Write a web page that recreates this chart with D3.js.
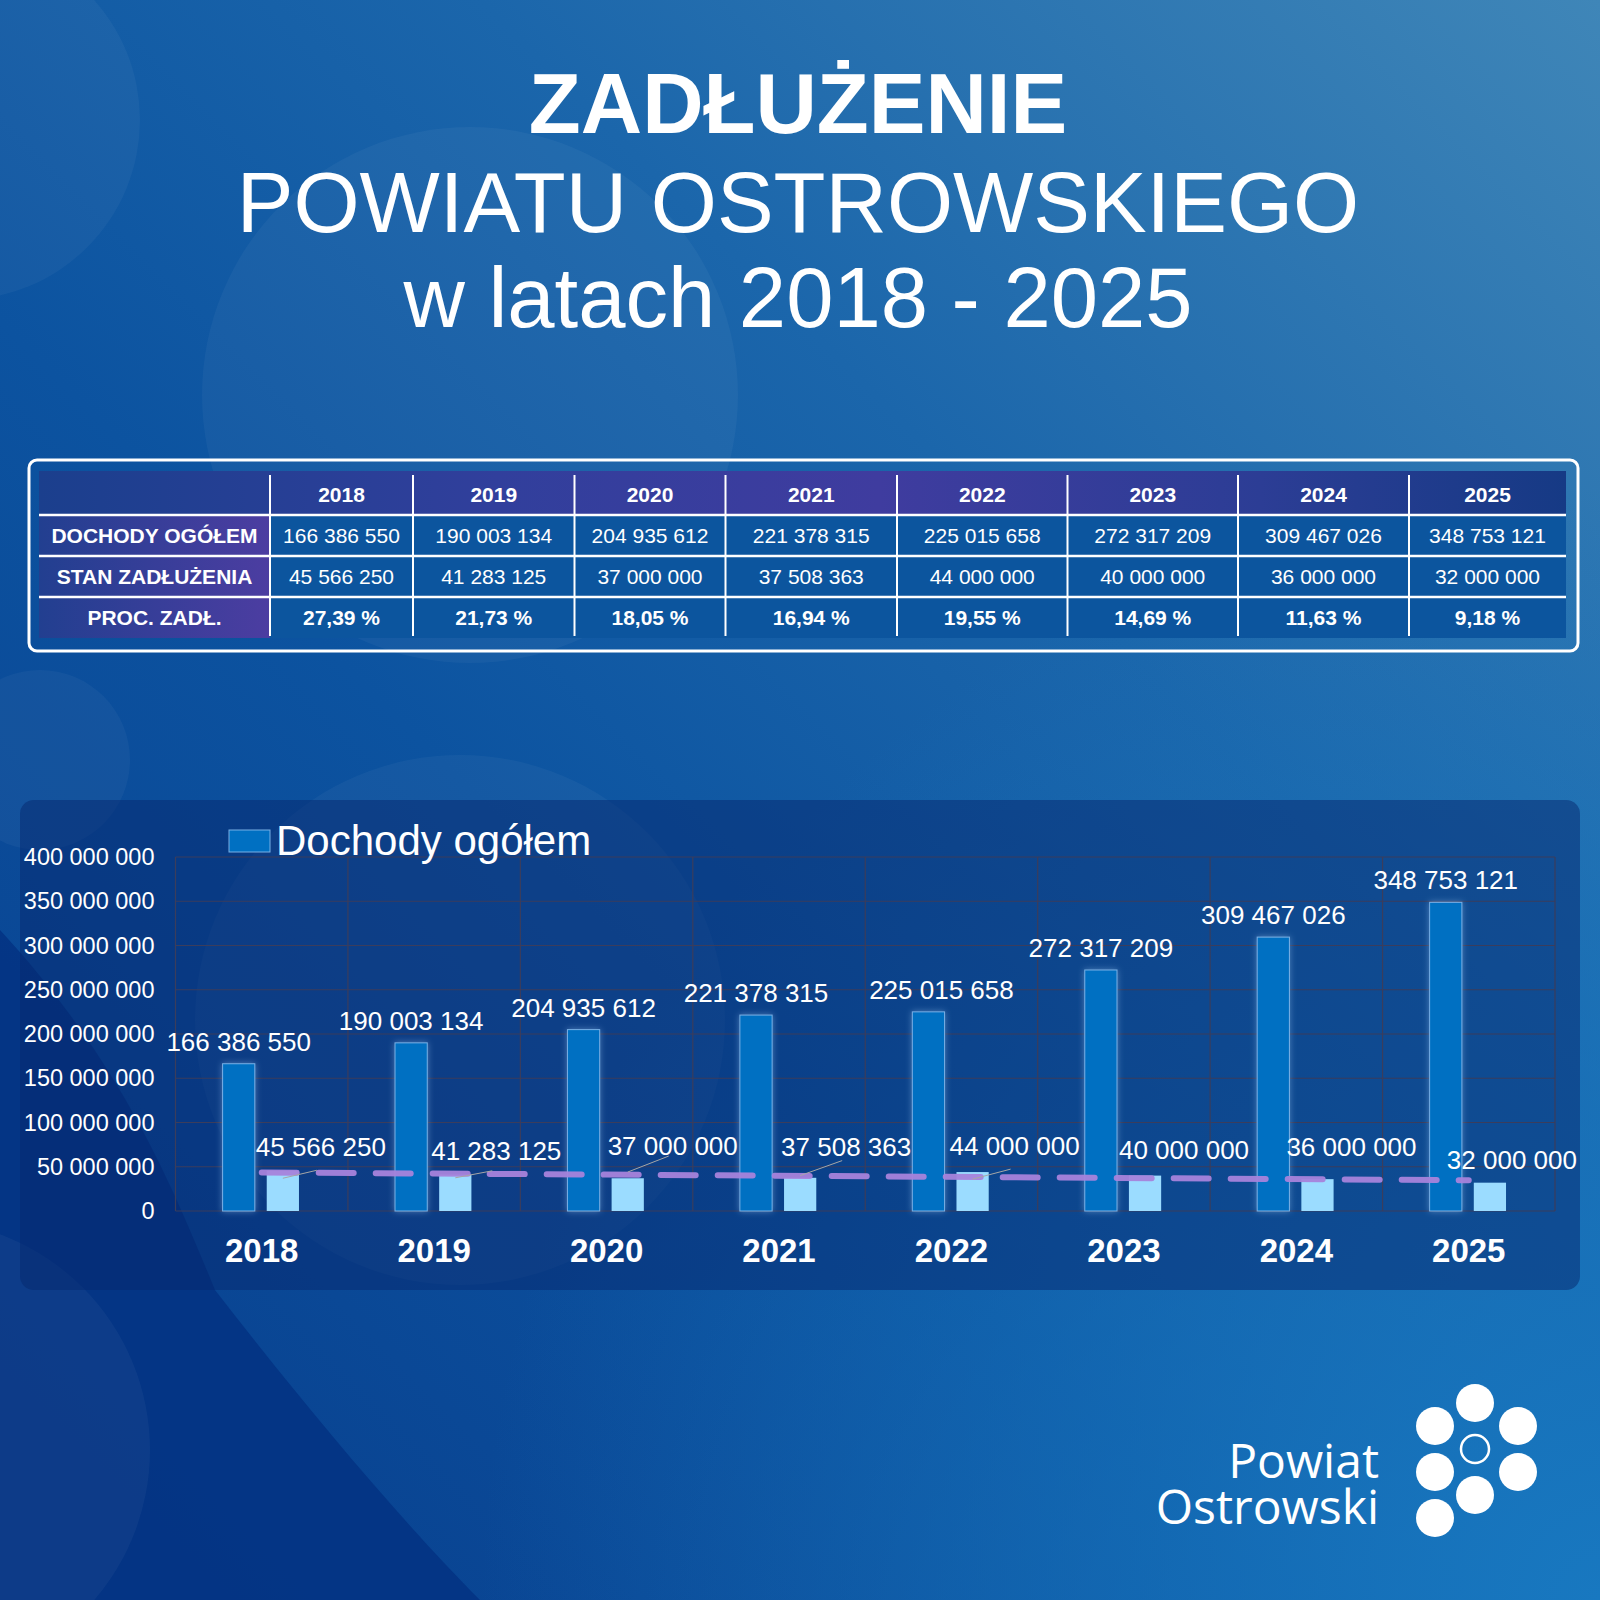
<!DOCTYPE html>
<html>
<head>
<meta charset="utf-8">
<script src="https://cdn.jsdelivr.net/npm/d3@7"></script>
<style>
  body { margin: 0; background: #0d4f9c; }
  svg { display: block; }
  text { font-family: "Liberation Sans", Arial, sans-serif; fill: #fff; }
</style>
</head>
<body>
<svg id="chart" width="1600" height="1600"></svg>
<script>
// --- data ---
const years = ['2018', '2019', '2020', '2021', '2022', '2023', '2024', '2025'];
const incomeTotal = [166386550, 190003134, 204935612, 221378315, 225015658, 272317209, 309467026, 348753121];
const debtTotal = [45566250, 41283125, 37000000, 37508363, 44000000, 40000000, 36000000, 32000000];
const debtPercent = [27.39, 21.73, 18.05, 16.94, 19.55, 14.69, 11.63, 9.18];
const rowLabels = ['DOCHODY OGÓŁEM', 'STAN ZADŁUŻENIA', 'PROC. ZADŁ.'];
const yTicks = [0, 50000000, 100000000, 150000000, 200000000, 250000000, 300000000, 350000000, 400000000];
// dashed trend of the debt series, value at first and last year
const trendYears = ['2018', '2025'];
const trendValues = [43600000, 34800000];
const titleLines = ['ZADŁUŻENIE', 'POWIATU OSTROWSKIEGO', 'w latach 2018 - 2025'];
const legendLabel = 'Dochody ogółem';
const logoLines = ['Powiat', 'Ostrowski'];

// --- layout ---
const W = 1600;
const tableCols = [39, 270, 413, 574.5, 725.5, 897, 1067.5, 1238, 1409, 1566];
const tableRows = [471, 515, 556, 597, 638];
const plot = { left: 175.5, right: 1555, top: 857, bottom: 1211 };
// income label shift (only 2022 is moved in the original)
const incomeLabelDx = [0, 0, 0, 0, 13, 0, 0, 0];
// debt label placement relative to the bar top (dx, dy) and whether a leader line is drawn
const debtLabelPos = [[38, -15], [41, -14], [45, -23], [46, -22], [42, -17], [39, -17], [34, -23], [22, -14]];
const debtLeader = [false, false, true, true, true, true, true, false];

const colors = {
    income: '#0070c2',
    incomeEdge: '#79b0e6',
    debt: '#9bdcff',
    trend: '#a783dc',
    grid: '#3b3d5c',
    cell: '#0c559e'
};

const pl = d3.formatLocale({ decimal: ',', thousands: '\u00a0', grouping: [3], currency: ['', ''] });
const fmtInt = pl.format(',d');
const fmtPct = v => pl.format('.2f')(v) + ' %';

const svg = d3.select('#chart');
const defs = svg.append('defs');

function linGrad(id, x1, y1, x2, y2, stops) {
    const g = defs.append('linearGradient').attr('id', id)
        .attr('x1', x1).attr('y1', y1).attr('x2', x2).attr('y2', y2);
    stops.forEach(s => g.append('stop').attr('offset', s[0]).attr('stop-color', s[1]));
}

/* Background: diagonal blue gradient, a dark swoosh bottom-left and a few faint circles */
function drawBackground() {
    linGrad('bg', '100%', '0%', '0%', '100%', [[0, '#3f86b8'], [0.35, '#1b66ab'], [0.6, '#0c53a0'], [1, '#083d8c']]);
    const r = defs.append('radialGradient').attr('id', 'bgBR').attr('cx', '100%').attr('cy', '100%').attr('r', '70%');
    r.append('stop').attr('offset', 0).attr('stop-color', '#1878c0').attr('stop-opacity', 1);
    r.append('stop').attr('offset', 1).attr('stop-color', '#1878c0').attr('stop-opacity', 0);

    svg.append('rect').attr('width', W).attr('height', W).attr('fill', 'url(#bg)');
    svg.append('rect').attr('width', W).attr('height', W).attr('fill', 'url(#bgBR)');

    svg.append('path')
        .attr('d', 'M0,930 C120,1060 170,1180 215,1290 C300,1400 400,1520 480,1600 L0,1600 Z')
        .attr('fill', '#033283').attr('opacity', 0.85);

    const circles = [[470, 395, 268], [-40, 120, 180], [460, 1020, 265], [-80, 1450, 230], [40, 760, 90]];
    svg.append('g').selectAll('circle').data(circles).join('circle')
        .attr('cx', d => d[0]).attr('cy', d => d[1]).attr('r', d => d[2])
        .attr('fill', '#ffffff').attr('opacity', 0.04);
}

function drawTitle() {
    const weights = ['bold', 'normal', 'normal'];
    const baselines = [133, 232, 327];
    svg.append('g').selectAll('text').data(titleLines).join('text')
        .attr('x', 798)
        .attr('y', (d, i) => baselines[i])
        .attr('text-anchor', 'middle')
        .attr('font-size', 85)
        .attr('font-weight', (d, i) => weights[i])
        .text(d => d);
}

function drawTable() {
    linGrad('thead', '0%', '0%', '100%', '0%', [[0, '#1b3f8d'], [0.3, '#313f9c'], [0.55, '#3f3c9f'], [0.8, '#2c3d95'], [1, '#163a85']]);
    linGrad('tlabel', '0%', '0%', '100%', '0%', [[0, '#223f90'], [1, '#4c3da1']]);

    const g = svg.append('g');
    const x0 = tableCols[0], x1 = tableCols[tableCols.length - 1];

    g.append('rect')
        .attr('x', x0).attr('y', tableRows[1])
        .attr('width', x1 - x0).attr('height', tableRows[4] - tableRows[1])
        .attr('fill', colors.cell);
    g.append('rect')
        .attr('x', x0).attr('y', tableRows[0])
        .attr('width', x1 - x0).attr('height', tableRows[1] - tableRows[0])
        .attr('fill', 'url(#thead)');
    g.append('rect')
        .attr('x', x0).attr('y', tableRows[1])
        .attr('width', tableCols[1] - x0).attr('height', tableRows[4] - tableRows[1])
        .attr('fill', 'url(#tlabel)');

    // white rule lines
    g.selectAll('line.h').data(tableRows.slice(1, 4)).join('line')
        .attr('x1', x0).attr('x2', x1).attr('y1', d => d).attr('y2', d => d)
        .attr('stroke', '#fff').attr('stroke-width', 2.5);
    g.selectAll('line.v').data(tableCols.slice(1, -1)).join('line')
        .attr('x1', d => d).attr('x2', d => d).attr('y1', tableRows[0] + 4).attr('y2', tableRows[4] - 2)
        .attr('stroke', '#fff').attr('stroke-width', 2);

    // outer rounded frame
    g.append('rect')
        .attr('x', 29).attr('y', 460).attr('width', 1549).attr('height', 191).attr('rx', 8)
        .attr('fill', 'none').attr('stroke', '#fff').attr('stroke-width', 3);

    const colCenter = i => (tableCols[i] + tableCols[i + 1]) / 2;
    const rowBase = r => (tableRows[r] + tableRows[r + 1]) / 2 + 7.5;

    g.selectAll('text.year').data(years).join('text')
        .attr('x', (d, i) => colCenter(i + 1)).attr('y', rowBase(0) + 1)
        .attr('text-anchor', 'middle').attr('font-size', 21).attr('font-weight', 'bold')
        .text(d => d);

    g.selectAll('text.rowlabel').data(rowLabels).join('text')
        .attr('x', colCenter(0)).attr('y', (d, i) => rowBase(i + 1))
        .attr('text-anchor', 'middle').attr('font-size', 21).attr('font-weight', 'bold')
        .text(d => d);

    const rows = [
        { values: incomeTotal.map(fmtInt), bold: false },
        { values: debtTotal.map(fmtInt), bold: false },
        { values: debtPercent.map(fmtPct), bold: true }
    ];
    rows.forEach((row, r) => {
        g.append('g').selectAll('text').data(row.values).join('text')
            .attr('x', (d, i) => colCenter(i + 1)).attr('y', rowBase(r + 1))
            .attr('text-anchor', 'middle').attr('font-size', 21)
            .attr('font-weight', row.bold ? 'bold' : 'normal')
            .text(d => d);
    });
}

function drawChart() {
    // chart panel
    svg.append('rect')
        .attr('x', 20).attr('y', 800).attr('width', 1560).attr('height', 490).attr('rx', 14)
        .attr('fill', '#05286e').attr('opacity', 0.5);

    const x = d3.scaleBand().domain(years).range([plot.left, plot.right]);
    const bw = x.bandwidth();
    const x1 = d3.scaleBand().domain(['income', 'debt'])
        .range([bw * 0.273, bw * 0.716]).paddingInner(0.27);
    const y = d3.scaleLinear().domain([0, 400000000]).range([plot.bottom, plot.top]);

    const glow = defs.append('filter').attr('id', 'glow')
        .attr('x', '-50%').attr('y', '-10%').attr('width', '200%').attr('height', '120%');
    glow.append('feDropShadow').attr('dx', 0).attr('dy', 0).attr('stdDeviation', 3)
        .attr('flood-color', '#9cc8f0').attr('flood-opacity', 0.45);

    // grid
    const grid = svg.append('g');
    grid.selectAll('line.h').data(yTicks).join('line')
        .attr('x1', plot.left).attr('x2', plot.right)
        .attr('y1', d => y(d)).attr('y2', d => y(d))
        .attr('stroke', colors.grid).attr('stroke-width', 1.2);
    grid.selectAll('line.v').data(years.concat(['end'])).join('line')
        .attr('x1', (d, i) => plot.left + i * bw).attr('x2', (d, i) => plot.left + i * bw)
        .attr('y1', plot.top).attr('y2', plot.bottom)
        .attr('stroke', colors.grid).attr('stroke-width', 1.2);

    // y axis labels
    const yAxis = svg.append('g')
        .attr('transform', `translate(${plot.left},0)`)
        .call(d3.axisLeft(y).tickValues(yTicks).tickFormat(fmtInt).tickSize(0).tickPadding(21));
    yAxis.select('.domain').remove();
    yAxis.selectAll('text')
        .attr('font-size', 23.5).attr('font-family', '"Liberation Sans", Arial, sans-serif')
        .attr('fill', '#fff');

    // year labels
    svg.append('g').selectAll('text').data(years).join('text')
        .attr('x', d => x(d) + bw / 2).attr('y', 1262)
        .attr('text-anchor', 'middle').attr('font-size', 33).attr('font-weight', 'bold')
        .text(d => d);

    // income bars
    svg.append('g').selectAll('rect').data(incomeTotal).join('rect')
        .attr('x', (d, i) => x(years[i]) + x1('income'))
        .attr('y', d => y(d))
        .attr('width', x1.bandwidth())
        .attr('height', d => y(0) - y(d))
        .attr('fill', colors.income)
        .attr('stroke', colors.incomeEdge).attr('stroke-width', 1)
        .attr('filter', 'url(#glow)');

    // debt bars
    svg.append('g').selectAll('rect').data(debtTotal).join('rect')
        .attr('x', (d, i) => x(years[i]) + x1('debt'))
        .attr('y', d => y(d))
        .attr('width', x1.bandwidth())
        .attr('height', d => y(0) - y(d))
        .attr('fill', colors.debt);

    // trend line
    svg.append('line')
        .attr('x1', x(trendYears[0]) + bw / 2).attr('y1', y(trendValues[0]))
        .attr('x2', x(trendYears[1]) + bw / 2).attr('y2', y(trendValues[1]))
        .attr('stroke', colors.trend).attr('stroke-width', 6)
        .attr('stroke-dasharray', '35 22').attr('stroke-linecap', 'round')
        .attr('opacity', 0.95);

    // income labels
    svg.append('g').selectAll('text').data(incomeTotal).join('text')
        .attr('x', (d, i) => x(years[i]) + x1('income') + x1.bandwidth() / 2 + incomeLabelDx[i])
        .attr('y', d => y(d) - 13)
        .attr('text-anchor', 'middle').attr('font-size', 26)
        .text(fmtInt);

    // debt labels with leader lines
    const debtCx = i => x(years[i]) + x1('debt') + x1.bandwidth() / 2;
    svg.append('g').selectAll('line').data(debtTotal).join('line')
        .filter((d, i) => debtLeader[i])
        .attr('x1', (d, i) => debtCx(i) + debtLabelPos[i][0] - 4)
        .attr('y1', (d, i) => y(d) + debtLabelPos[i][1] + 7)
        .attr('x2', (d, i) => debtCx(i))
        .attr('y2', d => y(d))
        .attr('stroke', '#a6a6a6').attr('stroke-width', 1);

    svg.append('g').selectAll('text').data(debtTotal).join('text')
        .attr('x', (d, i) => debtCx(i) + debtLabelPos[i][0])
        .attr('y', (d, i) => y(d) + debtLabelPos[i][1])
        .attr('text-anchor', 'middle').attr('font-size', 26)
        .text(fmtInt);

    // legend (only the income series is listed)
    svg.append('rect')
        .attr('x', 229).attr('y', 830).attr('width', 41).attr('height', 22)
        .attr('fill', colors.income).attr('stroke', colors.incomeEdge).attr('stroke-width', 1);
    svg.append('text')
        .attr('x', 276).attr('y', 855).attr('font-size', 42)
        .text(legendLabel);
}

function drawLogo() {
    const g = svg.append('g');
    const dots = [[1475, 1403], [1435, 1426], [1518, 1426], [1435, 1472], [1518, 1472], [1475, 1495], [1435, 1518]];
    g.selectAll('circle').data(dots).join('circle')
        .attr('cx', d => d[0]).attr('cy', d => d[1]).attr('r', 19).attr('fill', '#fff');
    g.append('circle').attr('cx', 1475).attr('cy', 1449).attr('r', 14)
        .attr('fill', 'none').attr('stroke', '#fff').attr('stroke-width', 2.5);
    const t = g.append('text')
        .attr('text-anchor', 'end').attr('font-size', 48)
        .style('font-family', '"Open Sans", "Noto Sans", sans-serif');
    t.selectAll('tspan').data(logoLines).join('tspan')
        .attr('x', 1379).attr('y', (d, i) => 1478 + i * 46)
        .text(d => d);
}

drawBackground();
drawTitle();
drawTable();
drawChart();
drawLogo();
</script>
</body>
</html>
